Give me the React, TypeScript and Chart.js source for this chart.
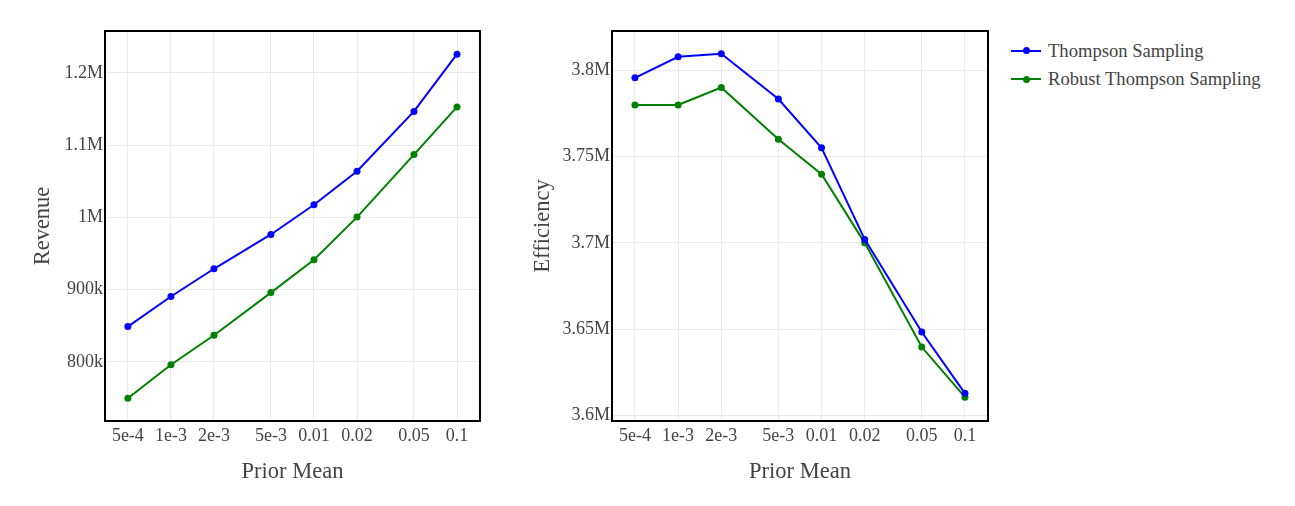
import React, { useEffect, useRef } from "react";
import { Chart, registerables } from "chart.js";

Chart.register(...registerables);

const priorMeans = [5e-4, 1e-3, 2e-3, 5e-3, 0.01, 0.02, 0.05, 0.1];
const priorMeanLabels = ["5e-4", "1e-3", "2e-3", "5e-3", "0.01", "0.02", "0.05", "0.1"];

const revenueTS = [849000, 890600, 929000, 976500, 1017600, 1064000, 1146800, 1226000];
const revenueRTS = [749700, 796200, 837000, 896000, 941400, 1000500, 1087000, 1153000];
const revenueTicks = [800000, 900000, 1000000, 1100000, 1200000];
const revenueTickLabels = ["800k", "900k", "1M", "1.1M", "1.2M"];

const efficiencyTS = [3795500, 3807700, 3809400, 3783200, 3755000, 3702000, 3648400, 3612900];
const efficiencyRTS = [3779800, 3779800, 3789900, 3760000, 3739700, 3700000, 3639700, 3610700];
const efficiencyTicks = [3600000, 3650000, 3700000, 3750000, 3800000];
const efficiencyTickLabels = ["3.6M", "3.65M", "3.7M", "3.75M", "3.8M"];

const seriesNames = ["Thompson Sampling", "Robust Thompson Sampling"];
const seriesColors = ["#0000ff", "#008000"];

const FONT = "'Liberation Serif', 'Times New Roman', serif";
const TEXT = "#444";

const framePlugin = {
  id: "frame",
  afterDraw(chart: any) {
    const { ctx, chartArea } = chart;
    ctx.save();
    ctx.strokeStyle = "#000";
    ctx.lineWidth = 2;
    ctx.strokeRect(chartArea.left, chartArea.top, chartArea.right - chartArea.left, chartArea.bottom - chartArea.top);
    ctx.restore();
  },
};

function makeConfig(
  ts: number[],
  rts: number[],
  yTicks: number[],
  yTickLabels: string[],
  yMin: number,
  yMax: number,
  yTitle: string,
  yWidth: number,
  padRight: number
): any {
  const toPts = (vals: number[]) => priorMeans.map((x, i) => ({ x, y: vals[i] }));
  return {
    type: "line",
    data: {
      datasets: [
        {
          label: seriesNames[0],
          data: toPts(ts),
          borderColor: seriesColors[0],
          backgroundColor: seriesColors[0],
          borderWidth: 2,
          pointRadius: 3.5,
          pointBorderWidth: 0,
          tension: 0,
        },
        {
          label: seriesNames[1],
          data: toPts(rts),
          borderColor: seriesColors[1],
          backgroundColor: seriesColors[1],
          borderWidth: 2,
          pointRadius: 3.5,
          pointBorderWidth: 0,
          tension: 0,
        },
      ],
    },
    options: {
      animation: false,
      responsive: false,
      maintainAspectRatio: false,
      layout: { padding: { top: 31, right: padRight, bottom: 0, left: 0 } },
      plugins: { legend: { display: false }, tooltip: { enabled: false } },
      scales: {
        x: {
          type: "logarithmic",
          bounds: "data",
          min: 3.46e-4,
          max: 0.1448,
          afterBuildTicks: (scale: any) => {
            scale.ticks = priorMeans.map((v) => ({ value: v }));
          },
          afterFit: (scale: any) => {
            scale.height = 85;
          },
          ticks: {
            autoSkip: false,
            maxRotation: 0,
            padding: 4,
            color: TEXT,
            font: { family: FONT, size: 18 },
            callback: (value: any) => {
              const i = priorMeans.findIndex((p) => Math.abs(p - value) / p < 1e-6);
              return i >= 0 ? priorMeanLabels[i] : "";
            },
          },
          grid: { color: "#ebebeb", lineWidth: 1, drawTicks: false },
          border: { display: false },
          title: {
            display: true,
            text: "Prior Mean",
            color: TEXT,
            font: { family: FONT, size: 22.5 },
            padding: { top: 0, bottom: 20 },
          },
        },
        y: {
          type: "linear",
          bounds: "data",
          min: yMin,
          max: yMax,
          afterBuildTicks: (scale: any) => {
            scale.ticks = yTicks.map((v) => ({ value: v }));
          },
          afterFit: (scale: any) => {
            scale.width = yWidth;
          },
          ticks: {
            padding: 2,
            color: TEXT,
            font: { family: FONT, size: 18 },
            callback: (value: any) => {
              const i = yTicks.indexOf(value);
              return i >= 0 ? yTickLabels[i] : "";
            },
          },
          grid: { color: "#ebebeb", lineWidth: 1, drawTicks: false },
          border: { display: false },
          title: {
            display: true,
            text: yTitle,
            color: TEXT,
            font: { family: FONT, size: 22.5 },
            padding: { top: 30, bottom: 0 },
          },
        },
      },
    },
    plugins: [framePlugin],
  };
}

function LegendRow({ color, label, top }: { color: string; label: string; top: number }) {
  return (
    <div style={{ position: "absolute", left: 1011, top: top - 15, height: 30, width: 280 }}>
      <div style={{ position: "absolute", left: 0, top: 14, width: 30, height: 2, background: color }} />
      <div
        style={{
          position: "absolute",
          left: 11.5,
          top: 11.5,
          width: 7,
          height: 7,
          borderRadius: "50%",
          background: color,
        }}
      />
      <div
        style={{
          position: "absolute",
          left: 37,
          top: 0,
          height: 30,
          lineHeight: "30px",
          fontFamily: FONT,
          fontSize: 18.6,
          color: TEXT,
          whiteSpace: "nowrap",
        }}
      >
        {label}
      </div>
    </div>
  );
}

export default function App() {
  const leftRef = useRef<HTMLCanvasElement>(null);
  const rightRef = useRef<HTMLCanvasElement>(null);

  useEffect(() => {
    const c1 = new Chart(
      leftRef.current as HTMLCanvasElement,
      makeConfig(revenueTS, revenueRTS, revenueTicks, revenueTickLabels, 718300, 1258100, "Revenue", 105, 20)
    );
    const c2 = new Chart(
      rightRef.current as HTMLCanvasElement,
      makeConfig(efficiencyTS, efficiencyRTS, efficiencyTicks, efficiencyTickLabels, 3596900, 3822600, "Efficiency", 112, 12)
    );
    return () => {
      c1.destroy();
      c2.destroy();
    };
  }, []);

  return (
    <div style={{ position: "absolute", left: 0, top: 0, width: 1295, height: 506, background: "#fff" }}>
      <canvas
        ref={leftRef}
        width={500}
        height={506}
        style={{ position: "absolute", left: 0, top: 0, width: 500, height: 506 }}
      />
      <canvas
        ref={rightRef}
        width={500}
        height={506}
        style={{ position: "absolute", left: 500, top: 0, width: 500, height: 506 }}
      />
      <LegendRow color={seriesColors[0]} label={seriesNames[0]} top={50.5} />
      <LegendRow color={seriesColors[1]} label={seriesNames[1]} top={79} />
    </div>
  );
}
